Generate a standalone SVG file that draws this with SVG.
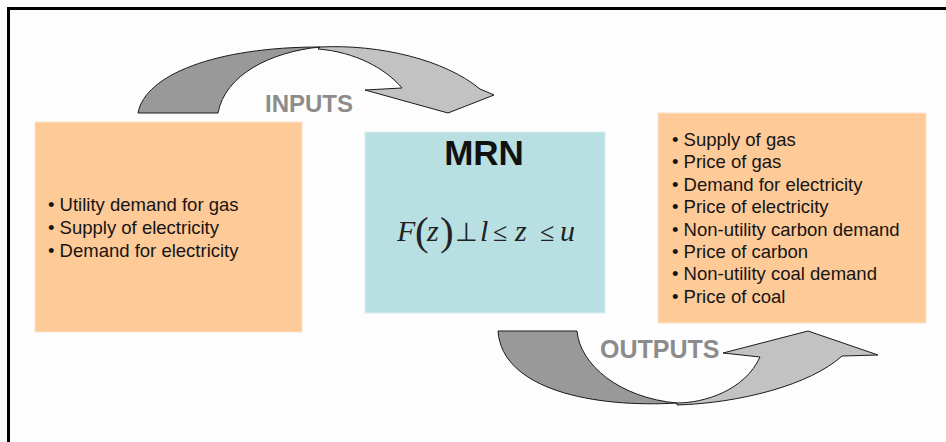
<svg xmlns="http://www.w3.org/2000/svg" width="946" height="442" viewBox="0 0 946 442">
  <style>
    .box-peach { fill: #fdca98; stroke: #fbe3c9; stroke-width: 1; }
    .box-blue { fill: #b8dfe2; stroke: #d6eef0; stroke-width: 1; }
    .item { font-family: "Liberation Sans", Arial, sans-serif; font-size: 18.5px; fill: #151515; }
    .flow-label { font-family: "Liberation Sans", Arial, sans-serif; font-weight: bold; fill: #8c8c8c; }
    .band-dark { fill: #999999; stroke: #1a1a1a; stroke-width: 1; stroke-linejoin: round; }
    .band-light { fill: #c2c2c2; stroke: #1a1a1a; stroke-width: 1; stroke-linejoin: round; }
    .math { font-family: "Liberation Serif", "Times New Roman", serif; fill: #222; }
    .var { font-size: 30px; font-style: italic; }
    .op { font-size: 26px; }
    .paren { font-size: 41px; }
  </style>

  <!-- page background and frame -->
  <rect x="0" y="0" width="946" height="442" fill="#fdfdfd"/>
  <path d="M8.5,442 V8.5 H946" fill="none" stroke="#000" stroke-width="3"/>

  <!-- curved flow arrows -->
  <g id="connectors">
    <g id="arrow-inputs">
      <path class="band-dark" d="M138,113 C145,75 215,47 320,47 C270,52 225,75 218,113 Z"/>
      <path class="band-light" d="M320,47 C380,44 445,60 480,89 L494,95 L448,113 L365,90 L402,88 C385,68 355,52 318,49 Z"/>
      <text class="flow-label" x="265" y="112" font-size="24">INPUTS</text>
    </g>
    <g id="arrow-outputs">
      <path class="band-dark" d="M498,331 L577,331 C580,365 620,398 677,403 C595,408 502,390 498,331 Z"/>
      <path class="band-light" d="M677,405 C740,403 810,385 842,356 L878,355 L808,331 L723,353 L760,357 C745,390 705,403 677,403 Z"/>
      <text class="flow-label" x="600" y="358" font-size="25">OUTPUTS</text>
    </g>
  </g>

  <!-- input variables -->
  <g id="node-inputs">
    <rect class="box-peach" x="35" y="122" width="267" height="210"/>
    <text class="item" x="48" y="211">• Utility demand for gas</text>
    <text class="item" x="48" y="234">• Supply of electricity</text>
    <text class="item" x="48" y="257">• Demand for electricity</text>
  </g>

  <!-- model block -->
  <g id="node-mrn">
    <rect class="box-blue" x="365" y="132" width="240" height="181"/>
    <text x="484" y="165" text-anchor="middle" font-family="Liberation Sans, Arial, sans-serif" font-size="35" font-weight="bold" fill="#111">MRN</text>
    <g class="math">
      <text class="var" x="397" y="241">F</text>
      <text class="paren" x="415" y="245">(</text>
      <text class="var" x="427" y="241">z</text>
      <text class="paren" x="440" y="245">)</text>
      <text class="op" x="455" y="241">⊥</text>
      <text class="var" x="480" y="241">l</text>
      <text class="op" x="493" y="241">≤</text>
      <text class="var" x="515" y="241">z</text>
      <text class="op" x="540" y="241">≤</text>
      <text class="var" x="560" y="241">u</text>
    </g>
  </g>

  <!-- output variables -->
  <g id="node-outputs">
    <rect class="box-peach" x="658" y="113" width="268" height="210"/>
    <text class="item" x="672" y="146">• Supply of gas</text>
    <text class="item" x="672" y="168">• Price of gas</text>
    <text class="item" x="672" y="191">• Demand for electricity</text>
    <text class="item" x="672" y="213">• Price of electricity</text>
    <text class="item" x="672" y="236">• Non-utility carbon demand</text>
    <text class="item" x="672" y="258">• Price of carbon</text>
    <text class="item" x="672" y="280">• Non-utility coal demand</text>
    <text class="item" x="672" y="303">• Price of coal</text>
  </g>
</svg>
